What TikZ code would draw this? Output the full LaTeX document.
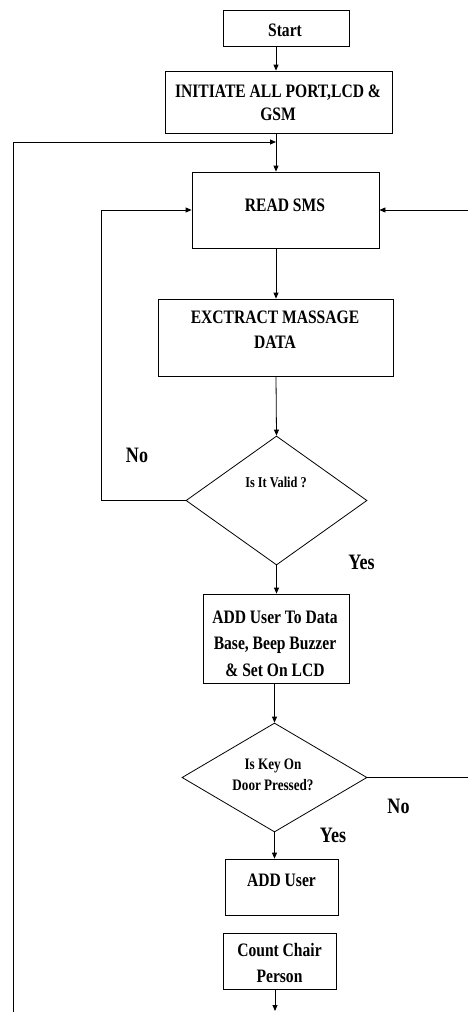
\documentclass[tikz,border=0pt]{standalone}
\usepackage{fontspec}
\setmainfont{Liberation Serif}[FakeStretch=0.82]
\usetikzlibrary{shapes.geometric,arrows.meta}
\begin{document}
\begin{tikzpicture}[x=1pt,y=-1pt,
  box/.style={draw,line width=0.8pt,rectangle,inner sep=0pt},
  dia/.style={draw,line width=0.8pt,diamond,inner sep=0pt},
  txt/.style={inner sep=0pt,align=center,font=\bfseries\fontsize{19}{25}\selectfont},
  lbl/.style={inner sep=0pt,font=\bfseries\fontsize{22}{26}\selectfont},
  plain/.style={line width=0.8pt},
  arr/.style={line width=0.8pt,-{Triangle[length=6pt,width=5pt]}}]
\useasboundingbox (0,0) rectangle (468,1012);
% boxes
\node[box,minimum width=126,minimum height=36] (start) at (286,28) {};
\node[box,minimum width=227,minimum height=62] (init) at (278.5,102) {};
\node[box,minimum width=187,minimum height=76] (read) at (285.5,210) {};
\node[box,minimum width=235,minimum height=77] (extract) at (275.5,337.5) {};
\node[dia,minimum width=181,minimum height=129] (valid) at (276.5,500.5) {};
\node[box,minimum width=146,minimum height=89] (add1) at (276,638.5) {};
\node[dia,minimum width=185,minimum height=109] (key) at (274.5,777.5) {};
\node[box,minimum width=113,minimum height=56] (add2) at (281.5,887) {};
\node[box,minimum width=113,minimum height=56] (count) at (279.5,961) {};
% texts
\node[txt] (tstart) at (285,30.5) {Start};
\node[txt,font=\bfseries\fontsize{19}{23.3}\selectfont] (tinit) at (278,103) {INITIATE ALL PORT,LCD \&\\GSM};
\node[txt] (tread) at (285,205) {READ SMS};
\node[txt] (textr) at (275,330) {EXCTRACT MASSAGE\\DATA};
\node[txt,font=\bfseries\fontsize{15}{18}\selectfont] (tvalid) at (276,482) {Is It Valid ?};
\node[txt,font=\bfseries\fontsize{19}{26.5}\selectfont] (tadd1) at (275,643.5) {ADD User To Data\\Base, Beep Buzzer\\\& Set On LCD};
\node[txt,font=\bfseries\fontsize{16}{21.3}\selectfont] (tkey) at (273,774.5) {Is Key On\\Door Pressed?};
\node[txt] (tadd2) at (281.5,880.5) {ADD User};
\node[txt,font=\bfseries\fontsize{19}{26}\selectfont] (tcount) at (279.5,963) {Count Chair\\Person};
% labels
\node[lbl] (no1) at (137,455) {No};
\node[lbl] (yes1) at (361.5,562.5) {Yes};
\node[lbl] (no2) at (398.5,806) {No};
\node[lbl] (yes2) at (333,835) {Yes};
% coordinates
\coordinate (ax) at (276,0);
\coordinate (join) at (276,142);
\coordinate (bl) at (13,1012);
\coordinate (rr) at (468,210);
\coordinate (kr) at (468,777.5);
\coordinate (bot) at (275,1011);
% connectors
\draw[arr] (start.south -| ax) -- (init.north -| ax);
\draw[arr] (init.south -| ax) -- (read.north -| ax);
\draw[arr] (bl) |- (join);
\draw[arr] (read.south -| ax) -- (extract.north -| ax);
\draw[arr] (extract.south -| ax) -- (valid.north);
\draw[arr] (valid.west) -- ++(-84,0) |- (read.west);
\draw[arr] (rr) -- (read.east);
\draw[arr] (valid.south) -- (valid.south |- add1.north);
\draw[arr] (add1.south -| key.north) -- (key.north);
\draw[plain] (key.east) -- (kr);
\draw[arr] (key.south) -- (key.south |- add2.north);
\draw[arr] (count.south -| bot) -- (bot);
\end{tikzpicture}
\end{document}
